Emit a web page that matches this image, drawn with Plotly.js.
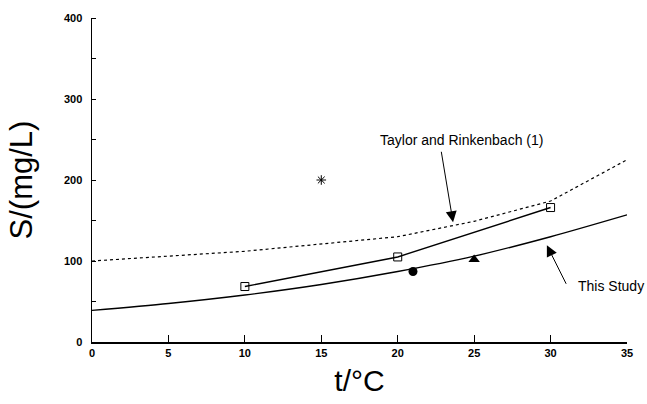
<!DOCTYPE html>
<html>
<head>
<meta charset="utf-8">
<script src="https://cdn.plot.ly/plotly-3.0.1.min.js"></script>
<style>html,body{margin:0;padding:0;background:#fff;}#chart{width:647px;height:404px;}</style>
</head>
<body>
<div id="chart"></div>
<script>
// This Study smooth curve
const studyT = [0, 5, 10, 15, 20, 25, 30, 35];
const studyS = [39, 47.5, 58, 71, 87, 106, 130, 157];
// Taylor and Rinkenbach (1) dashed curve
const taylorT = [0, 10, 20, 25, 30, 35];
const taylorS = [100, 112, 130, 149, 174, 225];
// open squares connected
const squareT = [10, 20, 30];
const squareS = [68.5, 105, 166];
// single points
const circleT = [21];
const circleS = [87];
const triangleT = [25];
const triangleS = [102];
const starT = [15];
const starS = [200];
const xTicks = [0, 5, 10, 15, 20, 25, 30, 35];
const yTicks = [0, 100, 200, 300, 400];

const traces = [
  {x: taylorT, y: taylorS, mode: 'lines', line: {color: '#000', width: 1.2, dash: '3px,3px'}, hoverinfo: 'skip'},
  {x: studyT, y: studyS, mode: 'lines', line: {color: '#000', width: 1.4, shape: 'spline', smoothing: 0.8}, hoverinfo: 'skip'},
  {x: squareT, y: squareS, mode: 'lines+markers', line: {color: '#000', width: 1.4},
   marker: {symbol: 'square-open', size: 8, color: '#000', line: {width: 1, color: '#000'}}},
  {x: circleT, y: circleS, mode: 'markers', marker: {symbol: 'circle', size: 9, color: '#000'}},
  {x: triangleT, y: triangleS, mode: 'markers', marker: {symbol: 'triangle-up', size: 10, color: '#000'}},
  {x: starT, y: starS, mode: 'markers', marker: {symbol: 'asterisk-open', size: 8, color: '#000', line: {width: 1, color: '#000'}}}
];

const tickFont = {family: 'Liberation Sans, Arial, sans-serif', size: 11, color: '#000', weight: 'bold'};
const layout = {
  width: 647, height: 404,
  margin: {l: 92, r: 20, t: 18, b: 62},
  paper_bgcolor: '#fff', plot_bgcolor: '#fff',
  showlegend: false,
  font: {family: 'Liberation Sans, Arial, sans-serif', color: '#000'},
  xaxis: {
    range: [0, 35], tickvals: xTicks, ticktext: xTicks.map(String),
    ticks: 'inside', ticklen: 7, tickwidth: 1, tickcolor: '#000',
    showline: true, linecolor: '#000', linewidth: 1.5, showgrid: false, zeroline: false,
    tickfont: tickFont,
    title: {text: 't/°C', font: {size: 30, family: 'Liberation Sans, Arial, sans-serif'}, standoff: 12}
  },
  yaxis: {
    range: [0, 400], tickvals: yTicks, ticktext: yTicks.map(String),
    ticks: '', showline: true, linecolor: '#000', linewidth: 1.5, showgrid: false, zeroline: false,
    tickfont: tickFont, ticklabelstandoff: 6,
    minor: {dtick: 50, ticks: 'inside', ticklen: 4, tickcolor: '#000', tickwidth: 1, showgrid: false},
    title: {text: 'S/(mg/L)', font: {size: 31, family: 'Liberation Sans, Arial, sans-serif'}, standoff: 22}
  },
  annotations: [
    {x: 24.2, y: 249, xref: 'x', yref: 'y', text: 'Taylor and Rinkenbach (1)', showarrow: false,
     font: {size: 14, color: '#000'}},
    {x: 23.62, y: 147.8, xref: 'x', yref: 'y', text: '', showarrow: true, ax: -12, ay: -72,
     arrowhead: 2, arrowsize: 2.2, arrowwidth: 1, arrowcolor: '#000'},
    {x: 33.95, y: 68.8, xref: 'x', yref: 'y', text: 'This Study', showarrow: false,
     font: {size: 14, color: '#000'}},
    {x: 29.76, y: 119.4, xref: 'x', yref: 'y', text: '', showarrow: true, ax: 20, ay: 40,
     arrowhead: 2, arrowsize: 2.2, arrowwidth: 1, arrowcolor: '#000'}
  ]
};

Plotly.newPlot('chart', traces, layout, {staticPlot: true});
</script>
</body>
</html>
